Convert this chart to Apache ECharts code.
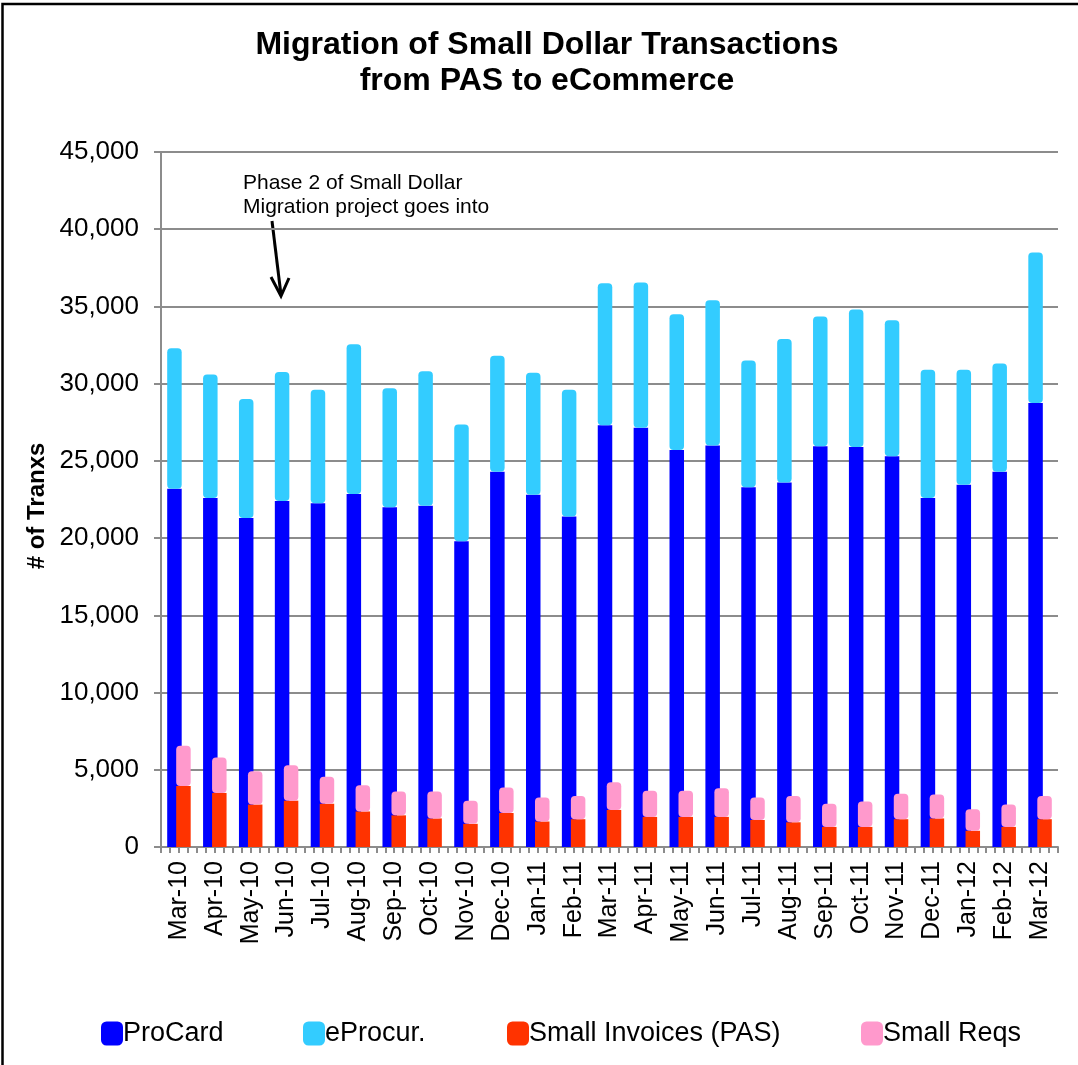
<!DOCTYPE html>
<html>
<head>
<meta charset="utf-8">
<script src="https://cdn.jsdelivr.net/npm/echarts@6/dist/echarts.min.js"></script>
<style>
html,body{margin:0;padding:0;background:#fff;}
#chart{width:1078px;height:1065px;}
</style>
</head>
<body>
<div id="chart"></div>
<script>
const months = ["Mar-10","Apr-10","May-10","Jun-10","Jul-10","Aug-10","Sep-10","Oct-10","Nov-10","Dec-10","Jan-11","Feb-11","Mar-11","Apr-11","May-11","Jun-11","Jul-11","Aug-11","Sep-11","Oct-11","Nov-11","Dec-11","Jan-12","Feb-12","Mar-12"];
const proCard = [23200,22600,21300,22400,22250,22850,22000,22100,19800,24300,22800,21400,27300,27150,25700,26000,23300,23600,25950,25900,25300,22600,23450,24300,28750];
const eProcur = [9100,8000,7700,8350,7350,9700,7700,8700,7550,7500,7900,8200,9200,9400,8800,9400,8200,9300,8400,8900,8800,8300,7450,7000,9750];
const smallInvoices = [3950,3500,2750,3000,2800,2300,2050,1850,1500,2200,1650,1800,2400,1950,1950,1950,1750,1600,1300,1300,1800,1850,1050,1300,1800];
const smallReqs = [2600,2300,2150,2300,1750,1700,1550,1750,1500,1650,1550,1500,1800,1700,1700,1850,1450,1700,1500,1650,1650,1550,1400,1450,1500];
const yTicks = {min:0, max:45000, interval:5000};

const FONT = "'Liberation Sans', Arial, sans-serif";
const GRAY = '#8c8c8c';
const chart = echarts.init(document.getElementById('chart'));

const tickCats = [];
for (let i = 0; i < months.length * 4; i++) tickCats.push('');

function legendAt(name, left) {
  return {
    data: [name], left: left, top: 1015, orient: 'horizontal',
    icon: 'roundRect', itemWidth: 22, itemHeight: 24,
    textStyle: {fontFamily: FONT, fontSize: 27, color: '#000', padding: [0, 0, 0, -5]}
  };
}

chart.setOption({
  animation: false,
  backgroundColor: '#fff',
  grid: {left: 161, right: 20, top: 152, bottom: 218, containLabel: false},
  legend: [
    legendAt('ProCard', 96),
    legendAt('eProcur.', 298),
    legendAt('Small Invoices (PAS)', 502),
    legendAt('Small Reqs', 856)
  ],
  xAxis: [
    {
      type: 'category', data: months, position: 'bottom',
      axisLine: {show: true, lineStyle: {color: GRAY, width: 2}},
      axisTick: {show: false},
      axisLabel: {rotate: 90, fontFamily: FONT, fontSize: 25, color: '#000', margin: 14, interval: 0}
    },
    {
      type: 'category', data: tickCats, position: 'bottom',
      axisLine: {show: false},
      axisTick: {show: true, interval: 0, length: 6, lineStyle: {color: GRAY, width: 2}},
      axisLabel: {show: false},
      splitLine: {show: false}
    }
  ],
  yAxis: {
    type: 'value', min: yTicks.min, max: yTicks.max, interval: yTicks.interval,
    axisLine: {show: true, lineStyle: {color: GRAY, width: 2}},
    axisTick: {show: true, length: 7, lineStyle: {color: GRAY, width: 2}},
    splitLine: {show: true, lineStyle: {color: GRAY, width: 2}},
    axisLabel: {
      fontFamily: FONT, fontSize: 26, color: '#000', margin: 22,
      formatter: v => v.toLocaleString('en-US')
    }
  },
  series: [
    {name: 'ProCard', type: 'bar', stack: 'a', data: proCard, barWidth: 14.5, barGap: '-38%',
     itemStyle: {color: '#0000FF'}},
    {name: 'eProcur.', type: 'bar', stack: 'a', data: eProcur, barWidth: 14.5, barGap: '-38%',
     itemStyle: {color: '#33CCFF', borderRadius: [4,4,4,4]}},
    {name: 'Small Invoices (PAS)', type: 'bar', stack: 'b', data: smallInvoices, barWidth: 14.5, barGap: '-38%',
     itemStyle: {color: '#FF3300'}},
    {name: 'Small Reqs', type: 'bar', stack: 'b', data: smallReqs, barWidth: 14.5, barGap: '-38%',
     itemStyle: {color: '#FF99CC', borderRadius: [4,4,4,4]}}
  ],
  graphic: [
    {type: 'polyline', shape: {points: [[2.5,1065],[2.5,4],[1078,4]]}, style: {stroke: '#000', lineWidth: 2.5, fill: null}, z: 100},
    {type: 'text', x: 547, y: 27, style: {
      text: 'Migration of Small Dollar Transactions\nfrom PAS to eCommerce',
      font: 'bold 32px ' + FONT, fill: '#000', align: 'center', verticalAlign: 'top', lineHeight: 36}},
    {type: 'text', x: 37, y: 506, rotation: Math.PI / 2, style: {
      text: '# of Tranxs', font: 'bold 24px ' + FONT, fill: '#000', align: 'center', verticalAlign: 'middle'}},
    {type: 'text', x: 243, y: 171, style: {
      text: 'Phase 2 of Small Dollar\nMigration project goes into',
      font: '21px ' + FONT, fill: '#000', align: 'left', verticalAlign: 'top', lineHeight: 24}},
    {type: 'polyline', shape: {points: [[272,221],[281,295]]}, style: {stroke: '#000', lineWidth: 3, fill: null}},
    {type: 'polyline', shape: {points: [[271,277],[281,296],[289,278]]}, style: {stroke: '#000', lineWidth: 3, fill: null}}
  ]
});
</script>
</body>
</html>
